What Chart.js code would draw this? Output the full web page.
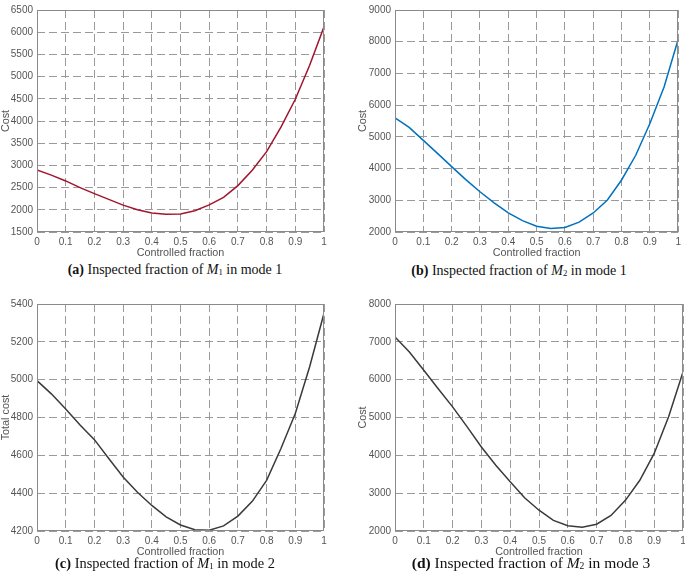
<!DOCTYPE html>
<html>
<head>
<meta charset="utf-8">
<script src="https://cdn.jsdelivr.net/npm/chart.js@4.4.1/dist/chart.umd.min.js"></script>
<style>
html,body{margin:0;padding:0;background:#fff;width:685px;height:574px;overflow:hidden;position:relative}
canvas{position:absolute}
.cap{position:absolute;font-family:"Liberation Serif","Times New Roman",serif;color:#111;white-space:nowrap;line-height:1;transform:translateX(-50%)}
.cap sub{font-size:62%;vertical-align:-0.15em;line-height:0}
</style>
</head>
<body>
<canvas id="cA" width="332" height="260" style="left:0;top:0"></canvas>
<canvas id="cB" width="345" height="260" style="left:340px;top:0"></canvas>
<canvas id="cC" width="332" height="274" style="left:0;top:285px"></canvas>
<canvas id="cD" width="355" height="274" style="left:340px;top:285px"></canvas>

<div class="cap" style="left:175px;top:263px;font-size:14px"><b>(a)</b> Inspected fraction of <i>M</i><sub>1</sub> in mode 1</div>
<div class="cap" style="left:519px;top:264px;font-size:14px"><b>(b)</b> Inspected fraction of <i>M</i><sub>2</sub> in mode 1</div>
<div class="cap" style="left:165px;top:555.5px;font-size:14.4px"><b>(c)</b> Inspected fraction of <i>M</i><sub>1</sub> in mode 2</div>
<div class="cap" style="left:531px;top:554.5px;font-size:15.5px"><b>(d)</b> Inspected fraction of <i>M</i><sub>2</sub> in mode 3</div>

<script>
// controlled fraction (x) shared by all four panels
const fraction = [0, 0.05, 0.1, 0.15, 0.2, 0.25, 0.3, 0.35, 0.4, 0.45, 0.5, 0.55, 0.6, 0.65, 0.7, 0.75, 0.8, 0.85, 0.9, 0.95, 1];

// (a) M1, mode 1
const costA = [2900, 2780, 2650, 2500, 2365, 2235, 2105, 2000, 1930, 1900, 1908, 1980, 2110, 2280, 2545, 2890, 3310, 3860, 4490, 5255, 6120];
// (b) M2, mode 1
const costB = [5600, 5300, 4890, 4480, 4060, 3650, 3270, 2920, 2600, 2360, 2180, 2110, 2140, 2310, 2600, 3010, 3640, 4420, 5420, 6570, 8080];
// (c) M1, mode 2
const costC = [4995, 4925, 4845, 4760, 4683, 4583, 4486, 4405, 4335, 4275, 4232, 4207, 4204, 4227, 4279, 4357, 4468, 4636, 4821, 5068, 5351];
// (d) M2, mode 3
const costD = [7130, 6730, 6250, 5760, 5280, 4760, 4220, 3740, 3300, 2880, 2550, 2280, 2140, 2100, 2180, 2410, 2810, 3340, 4050, 5020, 6200];

Chart.defaults.font.family = "'Liberation Sans', Arial, sans-serif";
Chart.defaults.font.size = 10;
Chart.defaults.color = '#555';

const boxPlugin = {
  id: 'box',
  afterDraw(chart) {
    const a = chart.chartArea, ctx = chart.ctx;
    ctx.save();
    ctx.strokeStyle = '#8a8a8a';
    ctx.lineWidth = 1;
    ctx.setLineDash([]);
    const l = Math.round(a.left) + 0.5, t = Math.round(a.top) + 0.5;
    const r = Math.round(a.right) - 0.5, b = Math.round(a.bottom) - 0.5;
    ctx.strokeRect(l, t, r - l, b - t);
    ctx.restore();
  }
};

function makeChart(id, values, color, yMin, yMax, yStep, yTitle, pad, yWidth) {
  new Chart(document.getElementById(id), {
    type: 'line',
    data: {
      datasets: [{
        data: fraction.map((f, i) => ({x: f, y: values[i]})),
        borderColor: color,
        borderWidth: 1.5,
        pointRadius: 0,
        tension: 0,
        fill: false
      }]
    },
    options: {
      responsive: false,
      animation: false,
      layout: {padding: pad},
      plugins: {legend: {display: false}, tooltip: {enabled: false}},
      scales: {
        x: {
          type: 'linear', min: 0, max: 1,
          ticks: {stepSize: 0.1, padding: 4, maxRotation: 0, callback: v => String(Math.round(v * 10) / 10)},
          grid: {color: '#9a9a9a', drawTicks: false},
          border: {display: false, dash: [8, 4]},
          title: {display: true, text: 'Controlled fraction', font: {size: 10.8}, padding: 0},
          afterFit: s => { s.height = 28; }
        },
        y: {
          min: yMin, max: yMax,
          ticks: {stepSize: yStep, padding: 4, callback: v => String(v)},
          grid: {color: '#9a9a9a', drawTicks: false},
          border: {display: false, dash: [8, 4]},
          title: {display: true, text: yTitle, font: {size: 10.8}, padding: 0},
          afterFit: s => { s.width = yWidth; }
        }
      }
    },
    plugins: [boxPlugin]
  });
}

makeChart('cA', costA, '#a2142f', 1500, 6500, 500, 'Cost', {left: 0, top: 6, right: 8, bottom: 0}, 37);
makeChart('cB', costB, '#0072bd', 2000, 9000, 1000, 'Cost', {left: 17, top: 9, right: 6, bottom: 0}, 38);
makeChart('cC', costC, '#3a3a3a', 4200, 5400, 200, 'Total cost', {left: 0, top: 19, right: 8, bottom: 0}, 37);
makeChart('cD', costD, '#3a3a3a', 2000, 8000, 1000, 'Cost', {left: 17, top: 19, right: 12, bottom: 0}, 38);
</script>
</body>
</html>
